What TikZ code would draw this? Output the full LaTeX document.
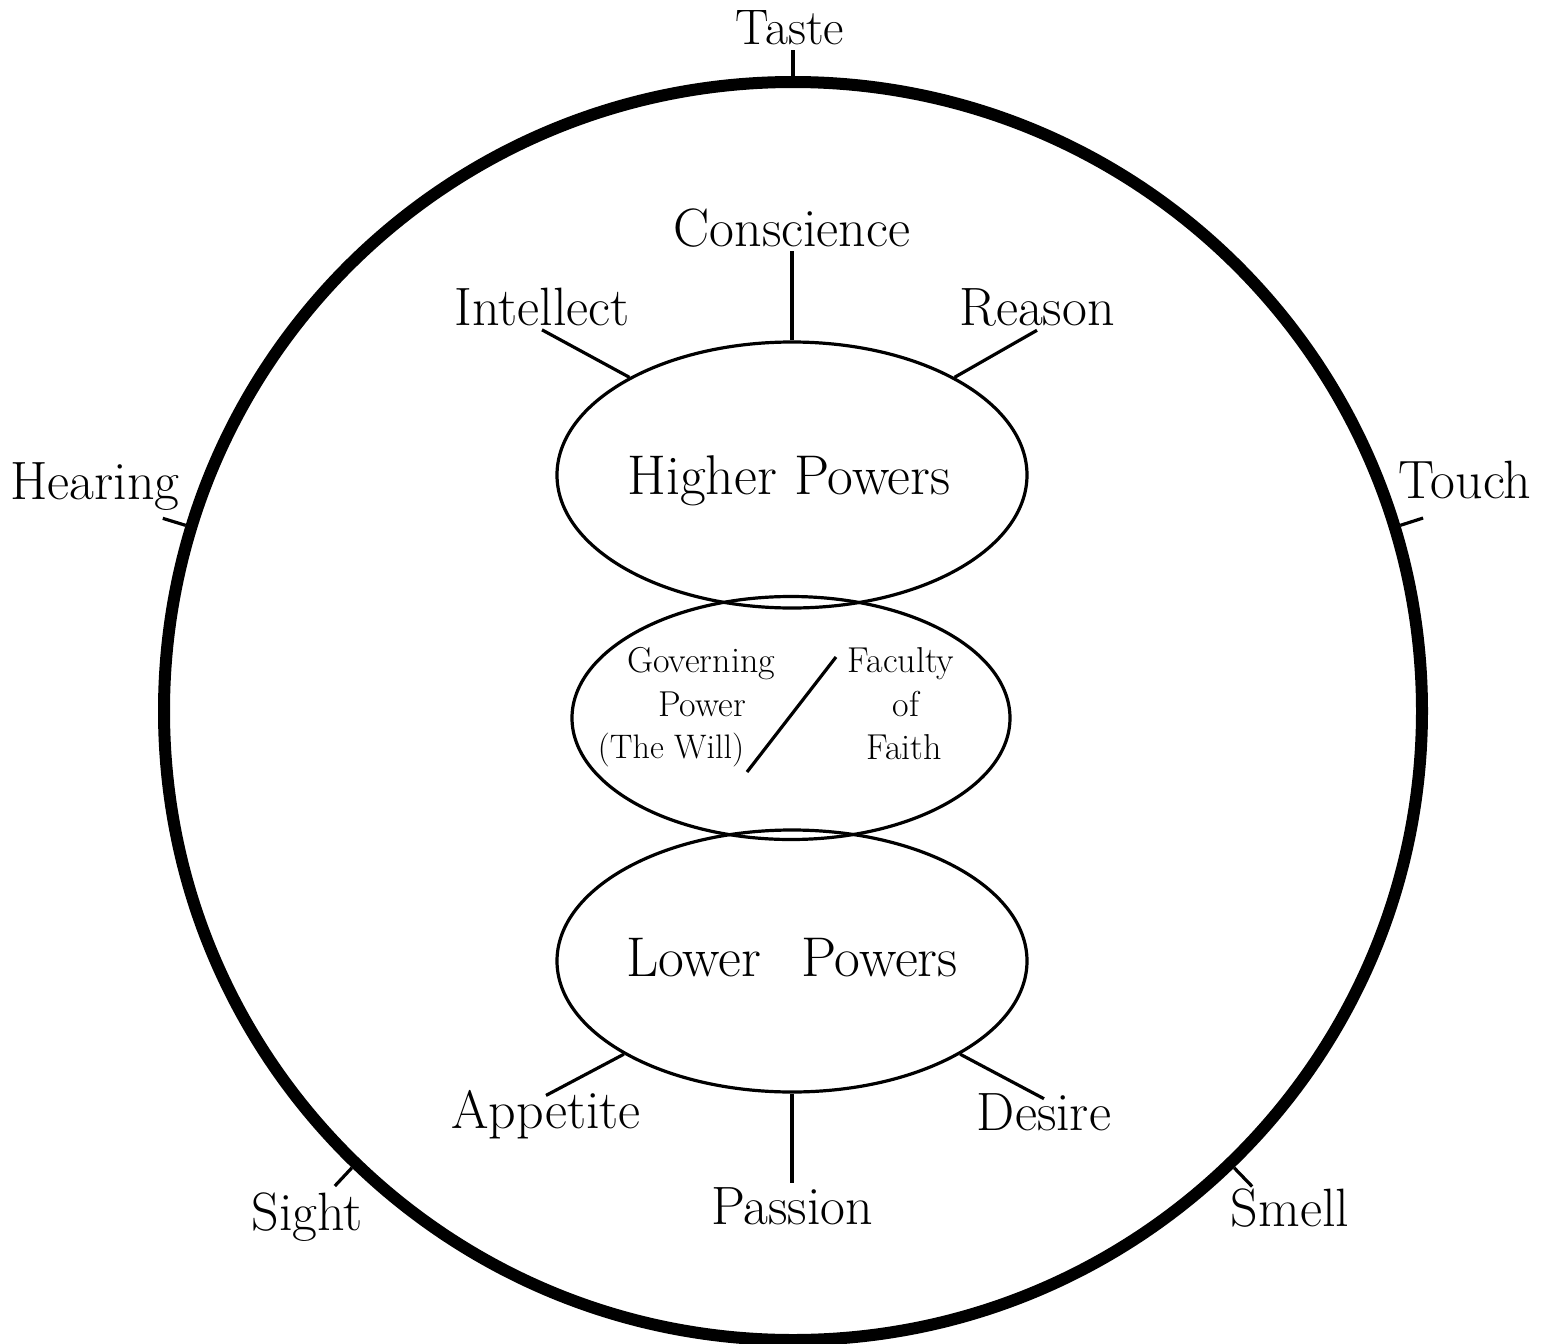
\documentclass[tikz,border=0pt]{standalone}
\usetikzlibrary{shapes.geometric}
\begin{document}
\begin{tikzpicture}[x=0.5pt,y=-0.5pt,
  lbl/.style={anchor=base,inner sep=2pt,font=\fontsize{27}{32}\selectfont},
  bigtext/.style={anchor=base,inner sep=0pt,font=\fontsize{28}{33}\selectfont},
  midtext/.style={anchor=base,inner sep=0pt,font=\fontsize{18}{22}\selectfont},
  oval/.style={ellipse,draw,line width=1.6pt,inner sep=0pt},
  conn/.style={line width=1.6pt},
  tickline/.style={line width=1.6pt}]
\useasboundingbox (0,0) rectangle (1549,1344);
% outer circle
\node[circle,draw,line width=6pt,minimum size=629pt,inner sep=0pt] (big) at (793,711) {};
% ellipses
\node[oval,minimum width=235pt,minimum height=133pt] (hp) at (792,475) {};
\node[oval,minimum width=219pt,minimum height=121.5pt] (gp) at (791,718) {};
\node[oval,minimum width=235pt,minimum height=131pt] (lp) at (792,961) {};
% ellipse texts
\node[bigtext] (hpt) at (789,494) {Higher Powers};
\node[bigtext] (lpt) at (792,976) {Lower\hspace{20pt}Powers};
\node[midtext] (g1) at (701,672) {Governing};
\node[midtext] (g2) at (702,716) {Power};
\node[midtext,font=\fontsize{17}{21}\selectfont] (g3) at (671,758) {(The Will)};
\node[midtext] (f1) at (901,672) {Faculty};
\node[midtext] (f2) at (906,716) {of};
\node[midtext] (f3) at (904,759) {Faith};
\coordinate (s1) at (747,772);
\coordinate (s2) at (836,657);
\draw[conn] (s1) -- (s2);
% labels around ellipses
\node[lbl] (cons) at (792,246) {Conscience};
\node[lbl] (intel) at (542,325) {Intellect};
\node[lbl] (reas) at (1037,325) {Reason};
\node[lbl,inner sep=0pt] (app) at (546,1128) {Appetite};
\node[lbl,inner sep=0pt] (des) at (1044,1130) {Desire};
\node[lbl] (pas) at (792,1224) {Passion};
\draw[conn] (cons.south) -- (hp.north);
\draw[conn] (intel.south) -- (hp.149);
\draw[conn] (reas.south) -- (hp.31);
\draw[conn] ([yshift=-3pt]app.north) -- (lp.209);
\draw[conn] ([yshift=-3pt]des.north) -- (lp.331);
\draw[conn] (pas.north) -- (lp.south);
% senses
\node[lbl,font=\fontsize{25}{30}\selectfont] (taste) at (790,44) {Taste};
\node[lbl] (hear) at (95,499) {Hearing};
\node[lbl] (touch) at (1465,498) {Touch};
\node[lbl] (sight) at (307,1230) {Sight};
\node[lbl] (smell) at (1290,1226) {Smell};
\path (big.90) ++(-90:26) coordinate (tTaste);
\path (big.163) ++(-163:24) coordinate (tHear);
\path (big.17.8) ++(-17.8:24) coordinate (tTouch);
\path (big.226.9) ++(-226.9:25) coordinate (tSight);
\path (big.314) ++(-314:26) coordinate (tSmell);
\draw[tickline] (big.90) -- (tTaste);
\draw[tickline] (big.163) -- (tHear);
\draw[tickline] (big.17.8) -- (tTouch);
\draw[tickline] (big.226.9) -- (tSight);
\draw[tickline] (big.314) -- (tSmell);
\end{tikzpicture}
\end{document}
